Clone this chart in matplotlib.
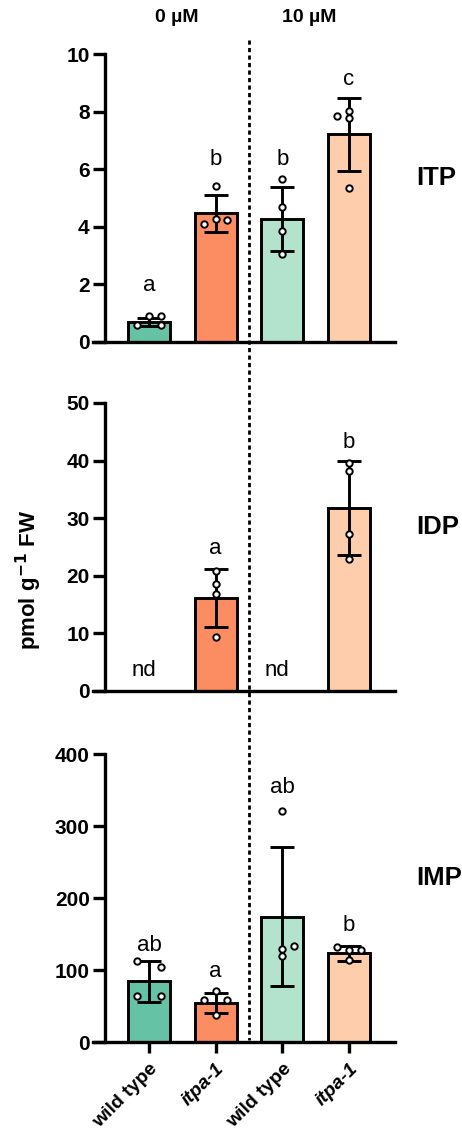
import matplotlib
matplotlib.use("Agg")
import matplotlib.pyplot as plt
from matplotlib.lines import Line2D
import numpy as np

plt.rcParams['font.family'] = ['Liberation Sans', 'DejaVu Sans']

groups = ["wild type", "itpa-1", "wild type", "itpa-1"]
group_italic = [False, True, False, True]
bar_colors = ["#66C2A5", "#FC8D62", "#B3E2CD", "#FDCDAC"]
conditions = ["0 µM", "10 µM"]
panel_names = ["ITP", "IDP", "IMP"]

# ITP
itp_mean = [0.70, 4.47, 4.27, 7.21]
itp_sd = [0.15, 0.65, 1.12, 1.27]
itp_points = [[0.58, 0.89, 0.89, 0.60], [4.10, 5.43, 4.22, 4.28], [5.66, 4.68, 3.84, 3.05], [7.86, 8.01, 7.77, 5.36]]
itp_offsets = [[-0.52, 0.0, 0.52, 0.52], [-0.52, 0.0, 0.52, 0.0], [0, 0, 0, 0], [-0.52, 0.0, 0.0, 0.0]]
itp_letters = ["a", "b", "b", "c"]
itp_letter_y = [1.95, 6.35, 6.35, 9.1]

# IDP (nd = not detected)
idp_mean = [None, 16.2, None, 31.8]
idp_sd = [None, 5.05, None, 8.15]
idp_points = [[], [20.9, 18.5, 16.9, 9.3], [], [39.5, 38.2, 27.3, 22.9]]
idp_offsets = [[], [0, 0, 0, 0], [], [0, 0, 0, 0]]
idp_letters = ["nd", "a", "nd", "b"]
idp_letter_y = [3.6, 24.7, 3.6, 43.1]

# IMP
imp_mean = [84.1, 54.0, 173.7, 123.3]
imp_sd = [28.0, 14.3, 96.5, 10.5]
imp_points = [[112.0, 104.8, 64.2, 64.2], [70.2, 58.7, 58.7, 37.0], [321.0, 128.9, 119.6, 134.0], [132.6, 128.0, 128.0, 114.0]]
imp_offsets = [[-0.52, 0.52, -0.52, 0.52], [0.0, -0.52, 0.52, 0.0], [0, 0, 0, 0.52], [-0.52, 0.0, 0.52, 0.0]]
imp_letters = ["ab", "a", "ab", "b"]
imp_letter_y = [133.5, 98.0, 353.0, 161.7]

ylims = [10, 50, 400]
yticks = [[0, 2, 4, 6, 8, 10], [0, 10, 20, 30, 40, 50], [0, 100, 200, 300, 400]]

W, H = 462, 1129
fig = plt.figure(figsize=(W / 100, H / 100), dpi=100)

left_px, right_px = 105, 395
panel_px = [(54, 342), (403, 691), (754, 1042)]

datasets = [
    (itp_mean, itp_sd, itp_points, itp_offsets, itp_letters, itp_letter_y),
    (idp_mean, idp_sd, idp_points, idp_offsets, idp_letters, idp_letter_y),
    (imp_mean, imp_sd, imp_points, imp_offsets, imp_letters, imp_letter_y),
]

x = np.arange(4)
lw = 2.1
axes = []
for i, (top, bot) in enumerate(panel_px):
    ax = fig.add_axes([left_px / W, 1 - bot / H, (right_px - left_px) / W, (bot - top) / H])
    axes.append(ax)
    mean, sd, pts, offs, letters, ly = datasets[i]
    for j in range(4):
        if mean[j] is not None:
            ax.bar(x[j], mean[j], width=0.63, color=bar_colors[j], edgecolor="black", linewidth=lw, zorder=2)
            ax.errorbar(x[j], mean[j], yerr=sd[j], fmt="none", ecolor="black", elinewidth=lw,
                        capsize=8.5, capthick=lw, zorder=3)
            jitter = 0.175 * np.array(offs[j]) / 0.52
            ax.plot(x[j] + jitter, pts[j], "o", markersize=4.6, markerfacecolor="white",
                    markeredgecolor="black", markeredgewidth=1.4, zorder=4, clip_on=False)
        dx = -0.08 if letters[j] == "nd" else 0.0
        ax.text(x[j] + dx, ly[j], letters[j], ha="center", va="center", fontsize=16, color="black")
    ax.set_xlim(-0.66, 3.69)
    ax.set_ylim(0, ylims[i])
    ax.set_yticks(yticks[i])
    ax.set_yticklabels([str(t) for t in yticks[i]], fontsize=15, fontweight="bold")
    for s in ["top", "right"]:
        ax.spines[s].set_visible(False)
    for s in ["left", "bottom"]:
        ax.spines[s].set_linewidth(lw + 0.3)
    ax.tick_params(axis="y", length=9, width=lw + 0.3, pad=2)
    ax.patch.set_alpha(0)
    ax.text(1.075, 0.57, panel_names[i], transform=ax.transAxes, ha="left", va="center",
            fontsize=18.5, fontweight="bold")
    ax.spines["bottom"].set_bounds(-0.84, 3.69)
    if i < 2:
        ax.set_xticks([])
    else:
        ax.set_xticks(x)
        ax.set_xticklabels(groups)
        ax.tick_params(axis="x", length=8, width=lw + 0.3, pad=5)
        for lab, it in zip(ax.get_xticklabels(), group_italic):
            lab.set_rotation(45)
            lab.set_ha("right")
            lab.set_rotation_mode("anchor")
            lab.set_fontsize(14)
            lab.set_fontweight("bold")
            if it:
                lab.set_fontstyle("italic")

# condition headers
fig.text(177 / W, 1 - 18 / H, conditions[0], ha="center", va="center", fontsize=14, fontweight="bold")
fig.text(309 / W, 1 - 18 / H, conditions[1], ha="center", va="center", fontsize=14, fontweight="bold")

# dotted separator
fig.add_artist(Line2D([249 / W, 249 / W], [1 - 40 / H, 1 - 1040 / H], transform=fig.transFigure,
                      color="black", linewidth=2, linestyle=(0, (1.5, 1.2))))

# y label
fig.text(29 / W, 1 - 580 / H, "pmol g$^{\\mathbf{-1}}$ FW", rotation=90, ha="center", va="center",
         fontsize=16, fontweight="bold")

fig.savefig("out.png", dpi=100)
